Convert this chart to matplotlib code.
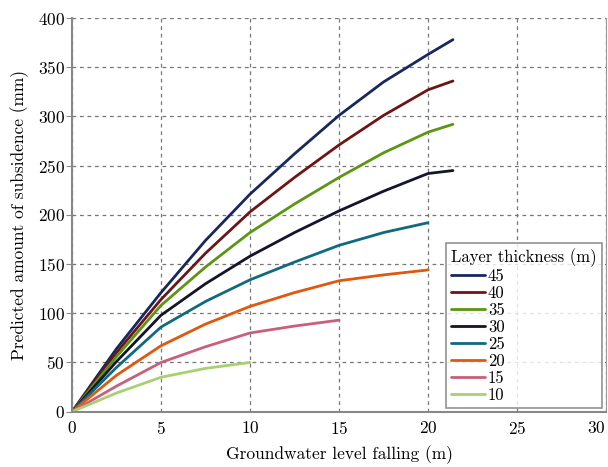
import numpy as np
import matplotlib
matplotlib.use('Agg')
from matplotlib import pyplot as plt

plt.rcParams['font.family'] = ['cmr10', 'DejaVu Serif']
plt.rcParams['mathtext.fontset'] = 'cm'
plt.rcParams['axes.unicode_minus'] = False
plt.rcParams['axes.formatter.use_mathtext'] = True

# groundwater level falling (m) and predicted subsidence (mm)
x_long = [0, 2.5, 5, 7.5, 10, 12.5, 15, 17.5, 20, 21.4]
x_20 = [0, 2.5, 5, 7.5, 10, 12.5, 15, 17.5, 20]
x_15 = [0, 2.5, 5, 7.5, 10, 12.5, 15]
x_10 = [0, 2.5, 5, 7.5, 10]

s45 = [0, 64, 121, 174, 221, 262, 301, 335, 363, 378]
s40 = [0, 60, 114, 161, 203, 238, 271, 301, 327, 336]
s35 = [0, 56, 108, 147, 182, 211, 238, 263, 284, 292]
s30 = [0, 51, 98, 130, 158, 182, 204, 224, 242, 245]
s25 = [0, 45, 86, 112, 134, 152, 169, 182, 192]
s20 = [0, 37, 67, 89, 107, 121, 133, 139, 144]
s15 = [0, 26, 50, 66, 80, 87, 93]
s10 = [0, 19, 35, 44, 50]

series = [
    ('45', x_long, s45, '#17285c'),
    ('40', x_long, s40, '#6e1414'),
    ('35', x_long, s35, '#5a9612'),
    ('30', x_long, s30, '#14142c'),
    ('25', x_20, s25, '#0f6a80'),
    ('20', x_20, s20, '#e0580e'),
    ('15', x_15, s15, '#c8607a'),
    ('10', x_10, s10, '#a8d072'),
]

fig = plt.figure(figsize=(6.08, 4.67), dpi=100)
ax = fig.add_axes([72/608, 55.3/467, 534/608, 393.7/467])

for lab, xs, ys, col in series:
    ax.plot(xs, ys, color=col, lw=2.0, label=lab,
            solid_capstyle='round', solid_joinstyle='round')

ax.set_xlim(0, 30)
ax.set_ylim(0, 400)
ax.set_xticks(np.arange(0, 31, 5))
ax.set_yticks(np.arange(0, 401, 50))

ax.grid(True, color='#777777', ls=(0, (3, 3)), lw=0.9)
ax.spines['top'].set_visible(False)
ax.spines['right'].set_color('#999999')
ax.spines['right'].set_linestyle((0, (2, 1)))
for s in ['left', 'bottom']:
    ax.spines[s].set_color('#888888')
    ax.spines[s].set_linewidth(1.5)
ax.tick_params(axis='y', direction='out', length=4, color='#888888', labelsize=12.5, pad=1)
ax.tick_params(axis='x', length=0, labelsize=12.5, pad=6)
# the last tick label sits at the right edge of the picture
ax.get_xticklabels()[-1].set_horizontalalignment('right')

ax.set_xlabel('Groundwater level falling (m)', fontsize=12.5, labelpad=6)
ax.set_ylabel('Predicted amount of subsidence (mm)', fontsize=12.5, labelpad=6)

leg = ax.legend(title='Layer thickness (m)', loc='lower right', fontsize=12,
                title_fontsize=12, frameon=True, fancybox=False,
                handlelength=2.0, handletextpad=0.2, labelspacing=0.1,
                borderaxespad=0.15, borderpad=0.3, bbox_to_anchor=(0.997, 0.003))
leg.get_frame().set_edgecolor('#777777')
leg.get_frame().set_linewidth(1.2)
leg._legend_box.align = 'left'

plt.savefig('out.png', dpi=100)
